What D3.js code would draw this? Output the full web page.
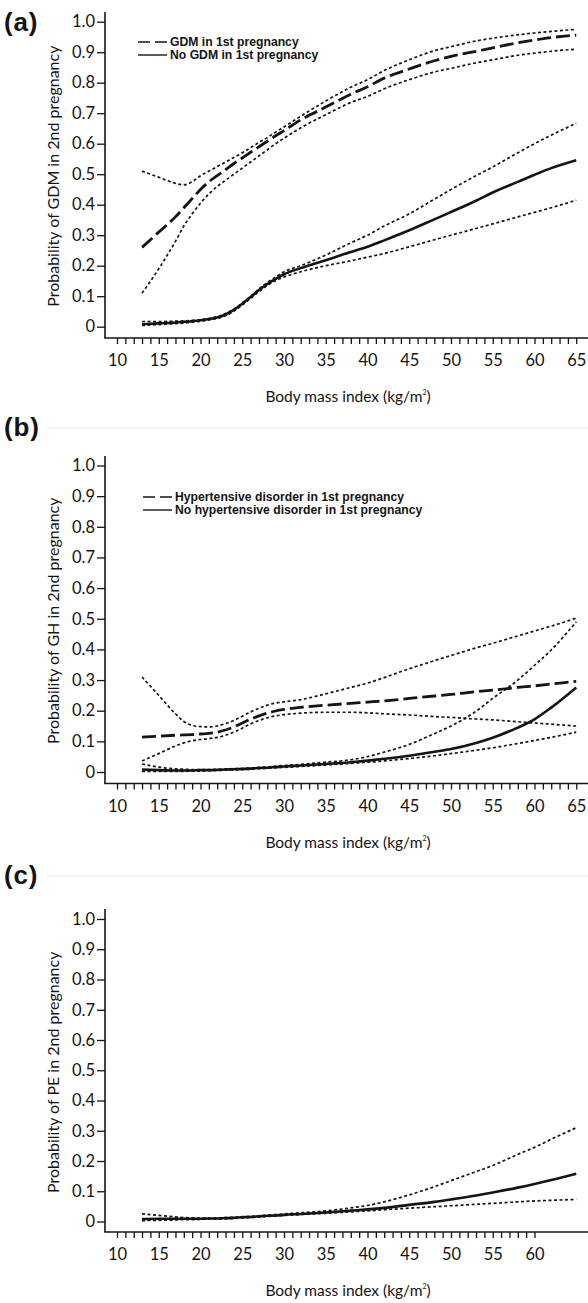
<!DOCTYPE html>
<html>
<head>
<meta charset="utf-8">
<script src="https://cdn.jsdelivr.net/npm/d3@7"></script>
<style>
  body { margin: 0; background: #fff; }
  svg { display: block; }
</style>
</head>
<body>
<svg id="fig" width="588" height="1303"></svg>
<script>
// BMI knots (kg/m²) at which the fitted probabilities are tabulated
const bmiGrid = [13, 15, 17, 18, 19, 20, 21, 22, 23, 24, 25, 26, 27, 28, 29,
                 30, 32, 35, 38, 40, 42, 45, 48, 50, 53, 55, 58, 60, 62, 65];

// y-axis ticks (x-axis ticks run every unit from 10, labelled every 5)
const yTicks = [0, 0.1, 0.2, 0.3, 0.4, 0.5, 0.6, 0.7, 0.8, 0.9, 1.0];

// (a) GDM in 2nd pregnancy
const gdmPrevFit = [0.26,0.31,0.36,0.39,0.42, 0.45,0.475,0.495,0.515,0.535, 0.553,0.572,0.59,0.608,0.626,
                    0.643,0.678,0.72,0.762,0.787, 0.815,0.845,0.872,0.886,0.903, 0.914,0.931,0.94,0.948,0.956];
const gdmPrevHi  = [0.51,0.49,0.47,0.465,0.475, 0.495,0.51,0.525,0.54,0.555, 0.57,0.587,0.604,0.62,0.638,
                    0.655,0.69,0.74,0.785,0.81, 0.84,0.875,0.905,0.918,0.937, 0.946,0.957,0.963,0.968,0.975];
const gdmPrevLo  = [0.11,0.19,0.28,0.33,0.37, 0.405,0.435,0.46,0.48,0.5, 0.52,0.54,0.56,0.58,0.6,
                    0.618,0.652,0.695,0.735,0.755, 0.78,0.81,0.835,0.847,0.865, 0.875,0.89,0.897,0.903,0.91];
const gdmNoneFit = [0.008,0.011,0.014,0.016,0.018, 0.021,0.025,0.03,0.04,0.055, 0.075,0.097,0.12,0.14,0.157,
                    0.172,0.192,0.218,0.245,0.262, 0.283,0.316,0.352,0.376,0.413, 0.44,0.475,0.498,0.52,0.546];
const gdmNoneHi  = [0.017,0.017,0.018,0.019,0.021, 0.023,0.027,0.033,0.043,0.058, 0.078,0.1,0.124,0.145,0.163,
                    0.18,0.2,0.235,0.275,0.3, 0.33,0.37,0.418,0.45,0.495, 0.524,0.57,0.6,0.628,0.667];
const gdmNoneLo  = [0.004,0.007,0.01,0.012,0.015, 0.018,0.022,0.027,0.036,0.051, 0.071,0.093,0.115,0.135,0.151,
                    0.163,0.18,0.2,0.216,0.228, 0.24,0.262,0.285,0.3,0.322, 0.337,0.36,0.375,0.39,0.415];

// (b) GH in 2nd pregnancy
const htnPrevFit = [0.114,0.117,0.12,0.121,0.122, 0.124,0.126,0.13,0.137,0.147, 0.16,0.172,0.183,0.192,0.199,
                    0.204,0.211,0.218,0.224,0.228, 0.232,0.24,0.248,0.253,0.262, 0.267,0.276,0.281,0.287,0.296];
const htnPrevHi  = [0.31,0.25,0.19,0.165,0.152, 0.148,0.147,0.15,0.158,0.168, 0.182,0.196,0.208,0.218,0.225,
                    0.229,0.236,0.255,0.276,0.29, 0.308,0.337,0.363,0.38,0.405, 0.42,0.444,0.46,0.476,0.502];
const htnPrevLo  = [0.036,0.06,0.085,0.095,0.102, 0.106,0.109,0.113,0.12,0.13, 0.143,0.157,0.168,0.177,0.183,
                    0.187,0.192,0.195,0.195,0.193, 0.19,0.186,0.181,0.178,0.173, 0.17,0.164,0.16,0.156,0.15];
const htnNoneFit = [0.008,0.006,0.005,0.005,0.005, 0.006,0.006,0.007,0.008,0.009, 0.01,0.011,0.013,0.014,0.016,
                    0.018,0.021,0.026,0.032,0.037, 0.043,0.053,0.066,0.075,0.095, 0.112,0.145,0.172,0.21,0.276];
const htnNoneHi  = [0.026,0.016,0.01,0.009,0.008, 0.008,0.008,0.009,0.01,0.011, 0.012,0.013,0.015,0.017,0.019,
                    0.021,0.025,0.032,0.04,0.05, 0.065,0.09,0.125,0.15,0.198, 0.24,0.3,0.348,0.398,0.49];
const htnNoneLo  = [0.002,0.002,0.002,0.002,0.003, 0.003,0.004,0.005,0.006,0.007, 0.008,0.009,0.011,0.012,0.014,
                    0.015,0.018,0.023,0.028,0.032, 0.036,0.044,0.053,0.06,0.071, 0.079,0.093,0.103,0.113,0.13];

// (c) PE in 2nd pregnancy
const peFit = [0.008,0.009,0.009,0.009,0.009, 0.009,0.01,0.01,0.011,0.012, 0.014,0.015,0.017,0.019,0.02,
               0.022,0.025,0.03,0.036,0.04, 0.045,0.055,0.065,0.073,0.086, 0.096,0.112,0.124,0.137,0.158];
const peHi  = [0.025,0.02,0.015,0.013,0.012, 0.011,0.011,0.012,0.013,0.014, 0.016,0.017,0.019,0.021,0.023,
               0.025,0.029,0.035,0.045,0.053, 0.065,0.088,0.115,0.135,0.165, 0.185,0.222,0.245,0.272,0.31];
const peLo  = [0.003,0.004,0.005,0.006,0.006, 0.007,0.008,0.008,0.009,0.01, 0.012,0.013,0.015,0.017,0.018,
               0.02,0.023,0.027,0.032,0.035, 0.039,0.044,0.049,0.052,0.057, 0.06,0.065,0.068,0.07,0.073];

const legendA = ["GDM in 1st pregnancy", "No GDM in 1st pregnancy"];
const legendB = ["Hypertensive disorder in 1st pregnancy", "No hypertensive disorder in 1st pregnancy"];

const xTitle = "Body mass index (kg/m";
const INK = "#141414";
const TICK_FONT = "Lato, 'Open Sans', sans-serif";
const LEGEND_FONT = "'Liberation Sans', Arial, sans-serif";

const panels = [
  { tag: "(a)", tagY: 31, rule: null, yTop: 21.7, yZero: 326.7, axisTop: 12, axisY: 338, tickMax: 65,
    yTitle: "Probability of GDM in 2nd pregnancy",
    legend: legendA, legendX: 138, legendY: 42,
    ci: [gdmPrevHi, gdmPrevLo, gdmNoneHi, gdmNoneLo],
    dashed: gdmPrevFit, solid: gdmNoneFit },
  { tag: "(b)", tagY: 436, rule: 428, yTop: 465.5, yZero: 772, axisTop: 456, axisY: 783.5, tickMax: 65,
    yTitle: "Probability of GH in 2nd pregnancy",
    legend: legendB, legendX: 143, legendY: 497,
    ci: [htnPrevHi, htnPrevLo, htnNoneHi, htnNoneLo],
    dashed: htnPrevFit, solid: htnNoneFit },
  { tag: "(c)", tagY: 884, rule: 876, yTop: 919, yZero: 1221.5, axisTop: 909, axisY: 1232, tickMax: 60,
    yTitle: "Probability of PE in 2nd pregnancy",
    legend: null,
    ci: [peHi, peLo],
    dashed: null, solid: peFit }
];

const svg = d3.select("#fig");
const x = d3.scaleLinear().domain([10, 65]).range([117, 576.25]);
const AXIS_X = 105, AXIS_RIGHT = 588;

function drawPanel(p) {
  const g = svg.append("g");
  const y = d3.scaleLinear().domain([0, 1]).range([p.yZero, p.yTop]);
  const line = d3.line()
    .x((d, i) => x(bmiGrid[i]))
    .y(d => y(d))
    .curve(d3.curveMonotoneX);

  // panel tag and faint rule beside it
  if (p.rule !== null) {
    g.append("line").attr("x1", 46).attr("x2", AXIS_RIGHT)
      .attr("y1", p.rule).attr("y2", p.rule)
      .attr("stroke", "#ececec").attr("stroke-width", 1);
  }
  g.append("text").attr("x", 4).attr("y", p.tagY)
    .attr("font-family", LEGEND_FONT).attr("font-weight", "bold")
    .attr("font-size", 26).attr("letter-spacing", 0.8).attr("fill", INK)
    .text(p.tag);

  // x axis
  const xAxis = d3.axisBottom(x)
    .tickValues(d3.range(10, p.tickMax + 1))
    .tickSize(6).tickSizeOuter(0).tickPadding(10.5)
    .tickFormat(d => d % 5 === 0 ? d : "");
  const gx = g.append("g").attr("transform", `translate(0,${p.axisY})`).call(xAxis);
  gx.select(".domain").remove();
  gx.selectAll(".tick line").attr("stroke", INK).attr("stroke-width", 1.3);
  gx.selectAll(".tick text").attr("font-family", TICK_FONT).attr("font-size", 16.5).attr("fill", INK);

  // y axis
  const yAxis = d3.axisLeft(y)
    .tickValues(yTicks)
    .tickSize(8).tickSizeOuter(0).tickPadding(2)
    .tickFormat(d => d === 0 ? "0" : d3.format(".1f")(d));
  const gy = g.append("g").attr("transform", `translate(${AXIS_X},0)`).call(yAxis);
  gy.select(".domain").remove();
  gy.selectAll(".tick line").attr("stroke", INK).attr("stroke-width", 1.3);
  gy.selectAll(".tick text").attr("font-family", TICK_FONT).attr("font-size", 16.5).attr("fill", INK);

  // axis frame lines
  g.append("line").attr("x1", AXIS_X).attr("x2", AXIS_X)
    .attr("y1", p.axisTop).attr("y2", p.axisY)
    .attr("stroke", INK).attr("stroke-width", 1.6);
  g.append("line").attr("x1", AXIS_X - 0.8).attr("x2", AXIS_RIGHT)
    .attr("y1", p.axisY).attr("y2", p.axisY)
    .attr("stroke", INK).attr("stroke-width", 1.6);

  // axis titles
  g.append("text")
    .attr("transform", `translate(59,${(p.yTop + p.yZero) / 2 + 2}) rotate(-90)`)
    .attr("text-anchor", "middle")
    .attr("font-family", TICK_FONT).attr("font-size", 16).attr("fill", INK)
    .text(p.yTitle);
  const xt = g.append("text")
    .attr("x", 348).attr("y", p.axisY + 64)
    .attr("text-anchor", "middle")
    .attr("font-family", TICK_FONT).attr("font-size", 15.5).attr("fill", INK);
  xt.append("tspan").text(xTitle);
  xt.append("tspan").attr("font-size", 7).attr("dy", -7).text("2");
  xt.append("tspan").attr("dy", 7).text(")");

  // confidence bounds (dotted)
  p.ci.forEach(vals => {
    g.append("path").datum(vals).attr("d", line)
      .attr("fill", "none").attr("stroke", INK)
      .attr("stroke-width", 1.7).attr("stroke-dasharray", "3,2.5");
  });
  // fitted curves
  if (p.dashed) {
    g.append("path").datum(p.dashed).attr("d", line)
      .attr("fill", "none").attr("stroke", INK)
      .attr("stroke-width", 2.8).attr("stroke-dasharray", "14,5");
  }
  g.append("path").datum(p.solid).attr("d", line)
    .attr("fill", "none").attr("stroke", INK)
    .attr("stroke-width", 2.6);

  // legend
  if (p.legend) {
    const lg = g.append("g");
    p.legend.forEach((label, i) => {
      const ry = p.legendY + i * 13;
      lg.append("line").attr("x1", p.legendX).attr("x2", p.legendX + 29)
        .attr("y1", ry).attr("y2", ry)
        .attr("stroke", INK).attr("stroke-width", 1.4)
        .attr("stroke-dasharray", i === 0 ? "12,5" : null);
      lg.append("text").attr("x", p.legendX + 32).attr("y", ry + 4)
        .attr("font-family", LEGEND_FONT).attr("font-weight", "bold")
        .attr("font-size", 12.2).attr("fill", INK)
        .text(label);
    });
  }
}

panels.forEach(drawPanel);
</script>
</body>
</html>
